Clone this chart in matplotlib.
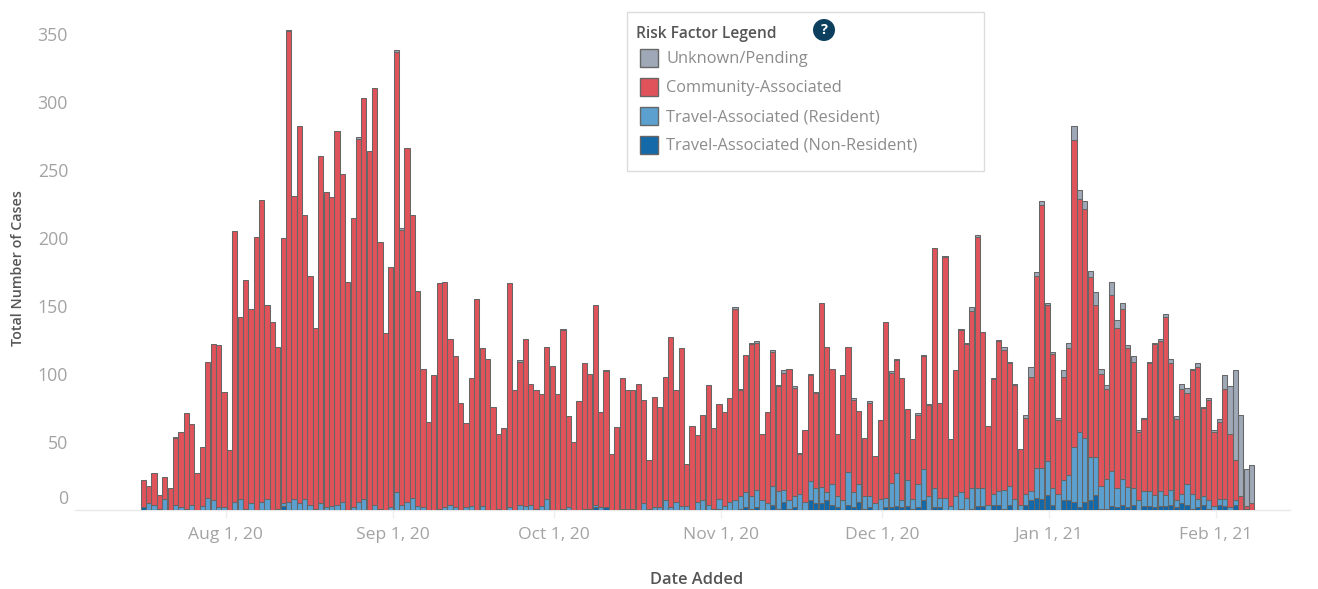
import numpy as np
import pandas as pd
import matplotlib
matplotlib.use('Agg')
import matplotlib.pyplot as plt
from matplotlib.patches import Rectangle, Circle

# Valores, un dato por dia desde el 17 de julio
first_day = '2020-07-17'

total = [22, 18, 27, 11, 24, 16, 54, 57, 71, 63,
         27, 46, 109, 122, 121, 87, 44, 205, 142, 169,
         148, 201, 228, 151, 138, 120, 200, 353, 231, 282,
         217, 172, 134, 260, 234, 230, 279, 247, 168, 215,
         274, 303, 264, 310, 197, 130, 179, 338, 207, 266,
         217, 161, 104, 65, 99, 167, 168, 126, 113, 79,
         64, 97, 155, 119, 111, 76, 56, 60, 167, 88,
         110, 126, 93, 88, 85, 120, 106, 85, 133, 69,
         50, 80, 108, 100, 151, 72, 103, 41, 61, 97,
         88, 88, 93, 81, 37, 83, 76, 98, 127, 88,
         119, 34, 62, 55, 70, 92, 60, 78, 72, 82,
         149, 89, 114, 123, 124, 56, 72, 118, 92, 103,
         104, 91, 42, 59, 100, 87, 152, 120, 104, 56,
         99, 120, 82, 73, 53, 80, 40, 66, 138, 102,
         111, 97, 74, 52, 71, 114, 78, 193, 79, 187,
         52, 103, 133, 123, 149, 202, 131, 62, 97, 125,
         120, 109, 93, 45, 70, 105, 175, 227, 152, 116,
         68, 103, 123, 282, 235, 227, 176, 160, 104, 92,
         168, 140, 152, 121, 113, 59, 68, 109, 123, 126,
         144, 111, 69, 93, 90, 104, 108, 76, 82, 59,
         67, 99, 91, 103, 70, 30, 33]

# Residentes y no residentes juntos
travel = [2, 5, 4, 1, 8, 0, 4, 2, 1, 4,
          0, 3, 9, 7, 2, 2, 0, 6, 8, 1,
          5, 0, 6, 8, 0, 1, 5, 6, 8, 5,
          8, 4, 1, 5, 2, 3, 4, 6, 0, 2,
          6, 8, 0, 4, 1, 0, 2, 13, 4, 6,
          9, 3, 2, 0, 0, 1, 2, 4, 2, 0,
          2, 3, 0, 3, 0, 0, 1, 0, 2, 0,
          4, 3, 4, 1, 3, 8, 0, 0, 1, 2,
          0, 0, 1, 1, 4, 2, 2, 0, 0, 1,
          1, 1, 0, 5, 1, 2, 2, 7, 2, 6,
          3, 3, 0, 6, 7, 4, 1, 8, 3, 6,
          7, 10, 13, 10, 15, 7, 5, 18, 14, 15,
          7, 10, 12, 6, 21, 16, 17, 13, 19, 10,
          7, 28, 13, 19, 10, 10, 5, 8, 9, 20,
          27, 7, 22, 8, 19, 30, 10, 16, 9, 9,
          3, 10, 13, 9, 16, 16, 16, 4, 12, 14,
          15, 18, 8, 4, 12, 14, 31, 31, 36, 16,
          12, 22, 26, 46, 57, 53, 39, 39, 18, 23,
          29, 16, 23, 17, 16, 7, 14, 14, 11, 14,
          11, 15, 7, 12, 19, 12, 8, 10, 7, 3,
          8, 8, 2, 7, 0, 1, 0]

non_resident = [2, 0, 0, 1, 0, 0, 0, 0, 1, 0,
                0, 0, 0, 0, 0, 0, 0, 0, 0, 0,
                0, 0, 0, 0, 0, 0, 3, 0, 0, 0,
                0, 0, 0, 0, 0, 0, 0, 0, 0, 0,
                0, 0, 0, 0, 0, 0, 0, 0, 0, 0,
                0, 0, 0, 0, 0, 0, 0, 0, 0, 0,
                0, 0, 0, 0, 0, 0, 0, 0, 0, 0,
                0, 0, 0, 0, 0, 0, 0, 0, 0, 0,
                0, 0, 0, 0, 2, 0, 2, 0, 0, 0,
                0, 0, 0, 0, 0, 0, 0, 0, 0, 0,
                0, 0, 0, 0, 0, 0, 0, 1, 0, 0,
                0, 1, 2, 1, 2, 0, 0, 4, 1, 6,
                1, 2, 0, 0, 7, 5, 5, 7, 4, 2,
                0, 4, 2, 6, 1, 2, 0, 0, 2, 2,
                3, 2, 3, 1, 2, 7, 0, 2, 2, 0,
                0, 0, 1, 0, 1, 3, 3, 0, 4, 4,
                1, 4, 0, 0, 4, 7, 9, 8, 11, 4,
                0, 7, 7, 6, 2, 6, 7, 11, 1, 1,
                3, 2, 4, 2, 4, 0, 3, 3, 2, 3,
                3, 4, 2, 5, 4, 1, 2, 4, 1, 0,
                4, 3, 0, 4, 0, 0, 0]

unknown = [0, 0, 0, 0, 0, 0, 1, 0, 0, 0,
           0, 0, 0, 0, 0, 0, 0, 0, 0, 0,
           0, 0, 0, 0, 0, 0, 0, 1, 0, 0,
           0, 0, 0, 0, 0, 0, 0, 0, 0, 0,
           1, 0, 0, 0, 0, 0, 0, 1, 1, 0,
           0, 0, 0, 0, 0, 0, 0, 0, 0, 0,
           0, 0, 0, 0, 0, 0, 0, 0, 0, 0,
           1, 0, 0, 0, 0, 0, 0, 0, 1, 0,
           0, 0, 0, 0, 0, 0, 1, 0, 0, 0,
           0, 0, 0, 0, 0, 0, 0, 0, 0, 0,
           0, 0, 0, 0, 0, 0, 0, 0, 0, 0,
           1, 1, 0, 1, 1, 0, 0, 2, 1, 2,
           0, 1, 1, 0, 1, 1, 0, 0, 0, 0,
           0, 0, 1, 0, 0, 1, 0, 0, 0, 1,
           1, 0, 0, 0, 1, 1, 1, 0, 0, 1,
           0, 0, 1, 1, 3, 1, 0, 0, 1, 1,
           2, 1, 1, 0, 2, 7, 3, 3, 1, 1,
           2, 5, 4, 10, 6, 6, 5, 9, 4, 3,
           10, 6, 4, 2, 4, 2, 1, 1, 1, 2,
           2, 3, 2, 4, 4, 1, 3, 1, 1, 2,
           2, 10, 35, 66, 60, 27, 28]

y_ticks = [0, 50, 100, 150, 200, 250, 300, 350]
x_tick_dates = ['2020-08-01', '2020-09-01', '2020-10-01', '2020-11-01',
                '2020-12-01', '2021-01-01', '2021-02-01']
x_tick_labels = ['Aug 1, 20', 'Sep 1, 20', 'Oct 1, 20', 'Nov 1, 20',
                 'Dec 1, 20', 'Jan 1, 21', 'Feb 1, 21']
legend_labels = ['Unknown/Pending', 'Community-Associated',
                 'Travel-Associated (Resident)', 'Travel-Associated (Non-Resident)']

color_unknown = '#9fa8b6'
color_community = '#e0535a'
color_resident = '#5ba0cf'
color_non_resident = '#1469a9'
edge_color = '#666666'
legend_colors = [color_unknown, color_community, color_resident, color_non_resident]

plt.rcParams['font.family'] = ['Open Sans', 'DejaVu Sans']

W, H = 1318, 589
fig = plt.figure(figsize=(W / 100, H / 100), dpi=100, facecolor='white')

# Los ejes van de x=75 a x=1290 y de y=0 a y=510 en pixeles
ax = fig.add_axes([75 / W, (H - 510) / H, (1290 - 75) / W, 510 / H])

days = pd.date_range(first_day, periods=len(total))
x = np.arange(len(days))
px_per_day = 5.38
ax.set_xlim(-(143.3 - 75) / px_per_day, (1290 - 143.3) / px_per_day)
ax.set_ylim(0, 510 / 1.36)

# Las comunidades y los residentes salen de las otras columnas
total_arr = np.array(total)
travel_arr = np.array(travel)
non_res_arr = np.array(non_resident)
unknown_arr = np.array(unknown)
resident_arr = travel_arr - non_res_arr
community_arr = total_arr - travel_arr - unknown_arr

bar_args = dict(width=0.97, edgecolor=edge_color, linewidth=0.75, zorder=3)
bottom = np.zeros(len(x))
for values, color in [(non_res_arr, color_non_resident), (resident_arr, color_resident),
                      (community_arr, color_community), (unknown_arr, color_unknown)]:
    ax.bar(x[values > 0], values[values > 0], bottom=bottom[values > 0], color=color, **bar_args)
    bottom = bottom + values

for side in ['top', 'right', 'left']:
    ax.spines[side].set_visible(False)
ax.spines['bottom'].set_color('#e8e8e8')
ax.spines['bottom'].set_linewidth(1.0)

# Marcas del eje x, un poco corridas respecto a las barras
tick_pos = [(pd.Timestamp(d) - days[0]).days + 0.35 for d in x_tick_dates]
ax.set_xticks(tick_pos)
ax.set_xticklabels(x_tick_labels, fontsize=12.6, color='#a3a3a3')
ax.tick_params(axis='x', length=6, width=1, color='#efefef', pad=6)

ax.set_yticks(y_ticks[1:])
ax.set_yticklabels([str(v) for v in y_ticks[1:]], fontsize=12.8, color='#a3a3a3')
ax.tick_params(axis='y', length=0, pad=5)
# El cero va mas arriba que su posicion real, como en el original
ax.annotate('0', xy=(0, 0), xycoords=('axes fraction', 'data'), xytext=(-5, 8),
            textcoords='offset points', ha='right', va='center', fontsize=12.8, color='#a3a3a3')

# Capa en pixeles para titulos y leyenda
over = fig.add_axes([0, 0, 1, 1], zorder=5)
over.set_xlim(0, W)
over.set_ylim(H, 0)
over.axis('off')

over.text(18.5, 268.5, 'Total Number of Cases', rotation=90, ha='center', va='center',
          fontsize=10.3, fontweight='semibold', color='#555555')
over.text(697, 580, 'Date Added', ha='center', va='center',
          fontsize=11.8, fontweight='semibold', color='#555555')

over.add_patch(Rectangle((627, 11.5), 357, 159, facecolor='white', edgecolor='#dcdcdc', linewidth=1.0))
over.text(636, 34, 'Risk Factor Legend', ha='left', va='center', fontsize=11.2,
          fontweight='semibold', color='#555555')
over.add_patch(Circle((824, 30), 11, facecolor='#0c3f5e', edgecolor='none'))
over.text(824, 30, '?', ha='center', va='center', fontsize=10.5, fontweight='bold', color='white')

for i, (label, color) in enumerate(zip(legend_labels, legend_colors)):
    y_row = 58 + i * 29
    over.add_patch(Rectangle((640, y_row - 9), 18, 18, facecolor=color, edgecolor='#666666', linewidth=1.0))
    over.text(666, y_row + 1, label, ha='left', va='center', fontsize=11.8, color='#8c8c8c')

assert len(total) == len(travel) == len(non_resident) == len(unknown)
fig.savefig('out.png', dpi=100, facecolor='white')
